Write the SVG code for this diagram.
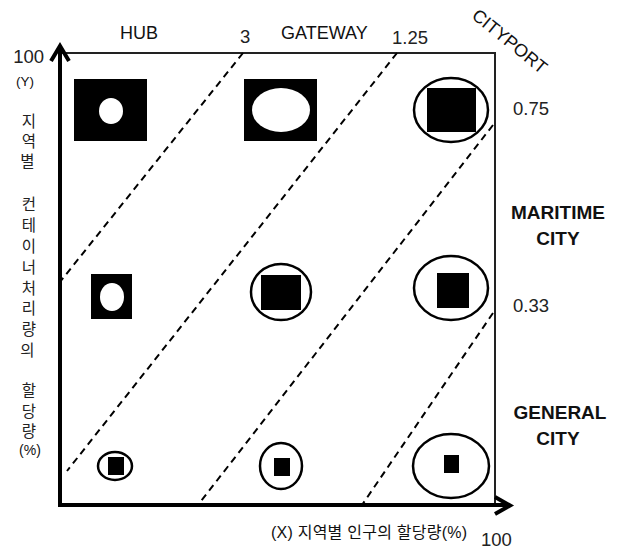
<svg xmlns="http://www.w3.org/2000/svg" width="622" height="551" viewBox="0 0 622 551">
<style>
  text { font-family: "Liberation Sans", "Noto Sans CJK KR", sans-serif; fill: #111; }
  .lbl { font-size: 18px; }
  .num { font-size: 18.5px; fill: #222; }
  .bold { font-size: 19px; font-weight: bold; text-anchor: middle; }
  .kr { font-family: "Noto Sans CJK KR", "Liberation Sans", sans-serif; font-size: 15.5px; text-anchor: middle; fill: #222; }
  .axis { stroke: #000; stroke-width: 4; fill: none; }
  .frame { stroke: #222; stroke-width: 2; fill: none; }
  .dash { stroke: #000; stroke-width: 2; stroke-dasharray: 7 5; fill: none; }
  .ring { stroke: #000; stroke-width: 2.5; fill: #fff; }
  .blk { fill: #000; }
  .hole { fill: #fff; }
</style>
<rect width="622" height="551" fill="#fff"/>

<g id="frame">
  <polyline class="frame" points="60,53 495,53 495,505"/>
</g>

<g id="connectors">
  <line class="dash" x1="243" y1="53" x2="60" y2="282"/>
  <line class="dash" x1="397" y1="53" x2="67" y2="471"/>
  <line class="dash" x1="493" y1="125" x2="198" y2="505"/>
  <line class="dash" x1="493" y1="313" x2="362" y2="505"/>
</g>

<g id="axes">
  <line class="axis" x1="60" y1="505" x2="60" y2="47"/>
  <line class="axis" x1="58" y1="505" x2="509" y2="505"/>
  <polyline class="axis" stroke-width="3.5" points="51,61 60,46 69,61"/>
  <polyline class="axis" stroke-width="3.5" points="495,497 510,505.5 495,514"/>
</g>

<!-- Row 1 -->
<g id="hub-high">
  <rect class="blk" x="74" y="79" width="73" height="62"/>
  <ellipse class="hole" cx="111" cy="111" rx="12" ry="13"/>
</g>
<g id="gateway-high">
  <rect class="blk" x="244" y="79" width="73" height="62"/>
  <ellipse class="hole" cx="281" cy="110" rx="29" ry="22"/>
</g>
<g id="cityport-high">
  <ellipse class="ring" cx="451" cy="110" rx="37" ry="32"/>
  <rect class="blk" x="427" y="88" width="49" height="44"/>
</g>

<!-- Row 2 -->
<g id="hub-mid">
  <rect class="blk" x="91" y="274" width="41" height="45"/>
  <ellipse class="hole" cx="112" cy="297" rx="12" ry="14"/>
</g>
<g id="gateway-mid">
  <ellipse class="ring" cx="281" cy="292" rx="30" ry="28"/>
  <rect class="blk" x="261" y="275" width="40" height="35"/>
</g>
<g id="cityport-mid">
  <ellipse class="ring" cx="451" cy="288" rx="37" ry="32"/>
  <rect class="blk" x="437" y="273" width="32" height="35"/>
</g>

<!-- Row 3 -->
<g id="hub-low">
  <ellipse class="ring" cx="115" cy="466" rx="17" ry="14"/>
  <rect class="blk" x="108" y="457" width="16" height="18"/>
</g>
<g id="gateway-low">
  <ellipse class="ring" cx="281" cy="466" rx="21" ry="23"/>
  <rect class="blk" x="274" y="458" width="16" height="18"/>
</g>
<g id="cityport-low">
  <ellipse class="ring" cx="451" cy="466" rx="38" ry="32"/>
  <rect class="blk" x="444" y="455" width="15" height="18"/>
</g>

<!-- Labels -->
<g id="labels">
  <text class="lbl" x="120" y="39">HUB</text>
  <text class="lbl" x="281" y="39">GATEWAY</text>
  <text class="lbl" transform="translate(510,41) rotate(39)" text-anchor="middle" y="6.5">CITYPORT</text>
  <text class="num" x="240" y="43">3</text>
  <text class="num" x="392" y="44">1.25</text>
  <text class="num" x="513" y="115">0.75</text>
  <text class="num" x="513" y="312">0.33</text>
  <text class="num" x="44" y="63" text-anchor="end">100</text>
  <text class="num" x="481" y="546">100</text>
  <text x="25" y="86" font-size="13.5" text-anchor="middle" fill="#222">(Y)</text>
  <text class="bold" x="558" y="219">MARITIME</text>
  <text class="bold" x="558" y="245">CITY</text>
  <text class="bold" x="560" y="419">GENERAL</text>
  <text class="bold" x="558" y="445">CITY</text>
  <text x="271" y="538" font-size="16" textLength="196" lengthAdjust="spacing" fill="#222">(X) 지역별 인구의 할당량(%)</text>
  <text class="kr">
    <tspan x="29" y="127">지</tspan><tspan x="29" y="147">역</tspan><tspan x="29" y="167">별</tspan>
    <tspan x="29" y="210">컨</tspan><tspan x="29" y="231">테</tspan><tspan x="29" y="252">이</tspan><tspan x="29" y="273">너</tspan><tspan x="29" y="294">처</tspan><tspan x="29" y="314">리</tspan><tspan x="29" y="335">량</tspan><tspan x="29" y="356">의</tspan>
    <tspan x="29" y="396">할</tspan><tspan x="29" y="417">당</tspan><tspan x="29" y="437">량</tspan>
  </text>
  <text x="30" y="455" font-size="14" text-anchor="middle" fill="#222">(%)</text>
</g>
</svg>
